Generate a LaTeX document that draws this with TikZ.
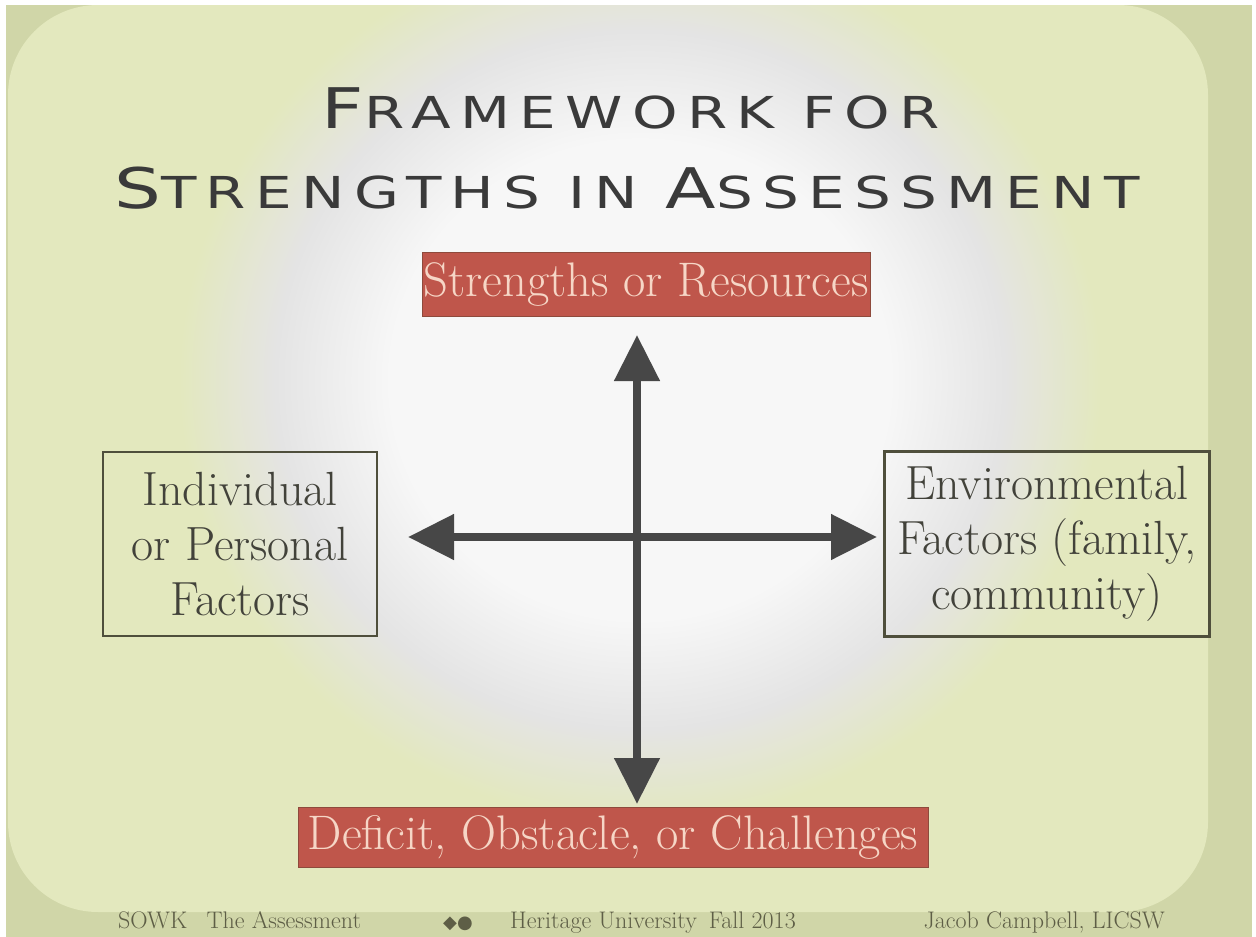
\documentclass[tikz,border=0pt]{standalone}
\usepackage{fontspec}
\usepackage{graphicx}
\newfontfamily\titlefont[LetterSpace=16]{DejaVu Sans}
\newfontfamily\symfont{DejaVu Sans}
\usetikzlibrary{arrows.meta}
\definecolor{bgmain}{HTML}{E3E8BE}
\definecolor{bgdark}{HTML}{D0D6A8}
\definecolor{glowA}{HTML}{F7F7F7}
\definecolor{glowB}{HTML}{E4E4E4}
\definecolor{redbox}{HTML}{BF564B}
\definecolor{redline}{HTML}{8E4A3C}
\definecolor{redtext}{HTML}{F6D6C6}
\definecolor{boxline}{HTML}{4F4F3C}
\definecolor{boxtext}{HTML}{42423A}
\definecolor{arrowc}{HTML}{474747}
\definecolor{titlec}{HTML}{3A3A3A}
\definecolor{footc}{HTML}{5E5E46}
\pgfdeclareradialshading{glow}{\pgfpoint{0bp}{0bp}}{color(0bp)=(glowA); color(13bp)=(glowA); color(19bp)=(glowB); color(24bp)=(bgmain); color(50bp)=(bgmain)}
\tikzset{
  titletext/.style={anchor=base, inner sep=0pt, text=titlec},
  redlabel/.style={fill=redbox, draw=redline, line width=1pt, text=redtext, inner sep=0pt,
     font=\fontsize{48.5}{52}\selectfont},
  sidebox/.style={draw=boxline, line width=2.5pt, text=boxtext, align=center, inner sep=0pt,
     font=\fontsize{48}{55}\selectfont},
  crossarrow/.style={draw=arrowc, line width=8pt,
     arrows={Triangle[length=46pt,width=44pt]-Triangle[length=46pt,width=44pt]}},
  foottext/.style={anchor=base, inner sep=0pt, text=footc, font=\fontsize{24}{28}\selectfont}
}
\newcommand{\BigC}[1]{{\fontsize{56}{60}\selectfont #1}}
\newcommand{\SmC}[1]{{\fontsize{44}{48}\selectfont #1}}
\begin{document}
\begin{tikzpicture}[x=1pt,y=-1pt]
\useasboundingbox (0,0) rectangle (1256,937);
\clip (0,0) rectangle (1256,937);
% background
\fill[white] (0,0) rectangle (1256,937);
\fill[bgdark] (6,5) rectangle (1252,937);
\fill[bgmain, rounded corners=90pt] (8,5) rectangle (1208,912);
\begin{scope}
\clip (6,5) rectangle (1252,937);
\shade[shading=glow] (640,380) ellipse [x radius=480pt, y radius=460pt];
\end{scope}
% title
\node[titletext] (t1) at (631,128) {\resizebox{618pt}{\height}{\titlefont\BigC{F}\SmC{RAMEWORK FOR}}};
\node[titletext] (t2) at (627,208) {\resizebox{1025pt}{\height}{\titlefont\BigC{S}\SmC{TRENGTHS IN }\BigC{A}\SmC{SSESSMENT}}};
% boxes
\node[redlabel, minimum width=448pt, minimum height=64pt] (sr) at (646,284) {Strengths or Resources};
\node[redlabel, minimum width=630pt, minimum height=60pt] (dc) at (613,837) {Deficit, Obstacle, or Challenges};
\node[sidebox, minimum width=274pt, minimum height=184pt] (ind) at (240,544) {Individual\\or Personal\\Factors};
\node[sidebox, minimum width=325pt, minimum height=185pt] (env) at (1047,544) {Environmental\\Factors (family,\\community)};
% arrows
\coordinate (vtop) at (637,335);
\coordinate (vbot) at (637,804);
\coordinate (hl) at (408,537);
\coordinate (hr) at (877,537);
\draw[crossarrow] (vtop) -- (vbot);
\draw[crossarrow] (hl) -- (hr);
% footer
\node[foottext, anchor=base west] (f1) at (118,928) {SOWK \enspace The Assessment};
\node[foottext] (f2) at (458,928) {\symfont\fontsize{18}{20}\selectfont ◆●};
\node[foottext, anchor=base west] (f3) at (510,928) {Heritage University\enspace Fall 2013};
\node[foottext, anchor=base east] (f4) at (1165,928) {Jacob Campbell, LICSW};
\end{tikzpicture}
\end{document}
